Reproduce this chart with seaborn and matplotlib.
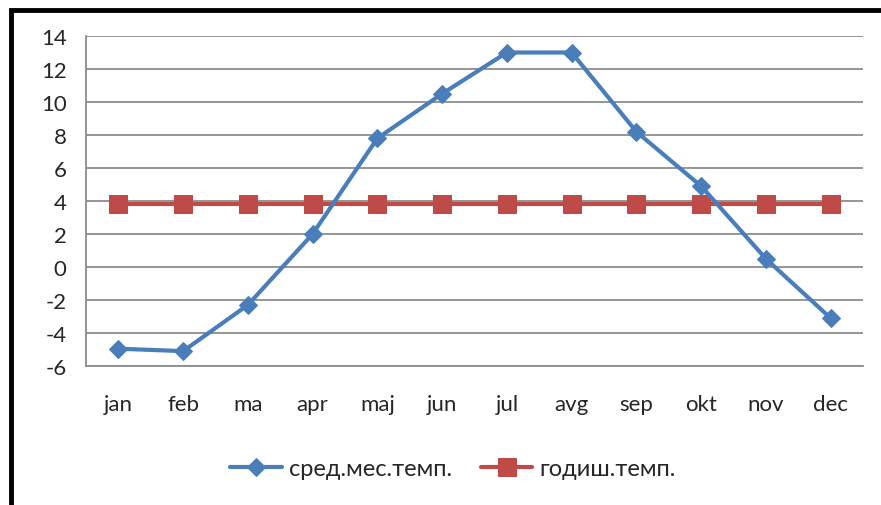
import pandas as pd
import seaborn as sns
import matplotlib.pyplot as plt
from matplotlib.patches import Rectangle
from matplotlib.ticker import FixedLocator

# monthly values
months = ["jan", "feb", "ma", "apr", "maj", "jun", "jul", "avg", "sep", "okt", "nov", "dec"]
monthly_temp = [-4.95, -5.1, -2.3, 2.0, 7.8, 10.5, 13.0, 13.0, 8.2, 4.9, 0.5, -3.1]
annual_temp = [3.8] * 12
series_names = ["сред.мес.темп.", "годиш.темп."]

BLUE = "#4A7EBB"
RED = "#BE4B48"
GRID = "#8C8C8C"

sns.set_style("white")
plt.rcParams["font.family"] = ["Lato", "DejaVu Sans"]
plt.rcParams["axes.unicode_minus"] = False

df = pd.DataFrame({"month": months, "monthly": monthly_temp, "annual": annual_temp})

fig = plt.figure(figsize=(8.81, 5.06), dpi=100)
ax = fig.add_axes([86 / 881, 1 - 367 / 506, (863 - 86) / 881, (367 - 37) / 506])

sns.lineplot(data=df, x="month", y="monthly", sort=False, ax=ax, color=BLUE,
             linewidth=3, marker="D", markersize=9, markeredgecolor=BLUE,
             label=series_names[0], zorder=4)
sns.lineplot(data=df, x="month", y="annual", sort=False, ax=ax, color=RED,
             linewidth=3, marker="s", markersize=13, markeredgecolor=RED,
             label=series_names[1], zorder=3)

ax.set_xlim(-0.5, len(months) - 0.5)
ax.set_ylim(-6, 14)
ax.set_yticks(range(-6, 15, 2))
ax.set_xlabel("")
ax.set_ylabel("")
ax.grid(axis="y", color=GRID, linewidth=1.3)
ax.set_axisbelow(True)

for side in ["top", "right"]:
    ax.spines[side].set_visible(False)
for side in ["left", "bottom"]:
    ax.spines[side].set_color(GRID)
    ax.spines[side].set_linewidth(1.3)

ax.xaxis.set_minor_locator(FixedLocator([i - 0.5 for i in range(len(months) + 1)]))
ax.tick_params(axis="x", which="major", length=0, pad=20, labelsize=16)
ax.tick_params(axis="x", which="minor", length=5, width=1.3, color=GRID, direction="out")
ax.tick_params(axis="y", length=6, width=1.3, color=GRID, direction="out", pad=8, labelsize=16)

ax.get_legend().remove()
handles, labels = ax.get_legend_handles_labels()
fig.legend(handles, labels, loc="center", bbox_to_anchor=(453 / 881, 1 - 470 / 506), ncol=2,
           frameon=False, fontsize=17, handlelength=2.2, columnspacing=1.2, handletextpad=0.3)

# thick outer frame (partly cut off at the right and bottom)
fig.patches.append(Rectangle((11 / 881, -0.1), 1.2, 1.1 - 11 / 506, transform=fig.transFigure,
                             fill=False, edgecolor="black", linewidth=3.5, zorder=10))

fig.savefig("out.png", dpi=100)
